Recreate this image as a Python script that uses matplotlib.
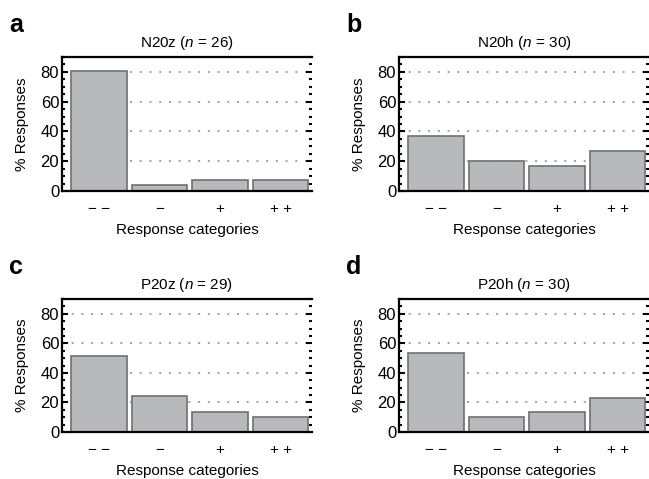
import matplotlib
matplotlib.use("Agg")
import matplotlib.pyplot as plt
from matplotlib.ticker import MultipleLocator

plt.rcParams['font.family'] = ['Liberation Sans', 'DejaVu Sans']
plt.rcParams['mathtext.fontset'] = 'custom'
plt.rcParams['mathtext.rm'] = 'Liberation Sans'
plt.rcParams['mathtext.it'] = 'Liberation Sans:italic'

categories = ["\u2212 \u2212", "\u2212", "+", "+ +"]
letters = ["a", "b", "c", "d"]
names = ["N20z", "N20h", "P20z", "P20h"]
ns = [26, 30, 29, 30]
vals_a = [80.8, 3.8, 7.7, 7.7]
vals_b = [36.7, 20.0, 16.7, 26.7]
vals_c = [51.7, 24.1, 13.8, 10.3]
vals_d = [53.3, 10.0, 13.3, 23.3]
values = [vals_a, vals_b, vals_c, vals_d]

W, H = 649, 479
fig = plt.figure(figsize=(W / 100, H / 100), dpi=100)

# axes boxes in pixels: left, top, right, bottom
boxes = [(62, 57, 312, 191), (399, 57, 649, 191),
         (62, 299, 312, 432), (399, 299, 649, 432)]
letter_pos = [(9, 32), (346, 32), (9, 274), (346, 274)]

for i in range(4):
    l, t, r, b = boxes[i]
    ax = fig.add_axes([l / W, (H - b) / H, (r - l) / W, (b - t) / H])
    ax.set_axisbelow(True)
    ax.yaxis.grid(True, color='#a0a0a0', linestyle=(0, (1, 4)), linewidth=1.4)
    ax.bar(range(4), values[i], width=0.92, color='#b8b9bd',
           edgecolor='#707070', linewidth=1.2, zorder=2)
    ax.set_xlim(-0.61, 3.52)
    ax.set_ylim(0, 90)
    ax.yaxis.set_major_locator(MultipleLocator(20))
    ax.yaxis.set_minor_locator(MultipleLocator(5))
    ax.set_xticks(range(4))
    ax.set_xticklabels(categories)
    ax.tick_params(axis='x', length=0, pad=8, labelsize=11)
    ax.tick_params(axis='y', which='major', direction='in', length=4,
                   width=1.5, right=True, labelsize=12, pad=2)
    ax.tick_params(axis='y', which='minor', direction='in', length=2.5,
                   width=1.5, right=True)
    for s in ax.spines.values():
        s.set_linewidth(1.6)
    ax.spines['right'].set_visible(False)
    ax.set_ylabel("% Responses", fontsize=11, labelpad=8)
    ax.set_xlabel("Response categories", fontsize=11, labelpad=5)
    ax.set_title(names[i] + r" ($\mathit{n}$ = %d)" % ns[i], fontsize=11, pad=7)
    fig.text(letter_pos[i][0] / W, 1 - letter_pos[i][1] / H, letters[i],
             fontsize=18, fontweight='bold', va='baseline')

fig.savefig("out.png", dpi=100)
